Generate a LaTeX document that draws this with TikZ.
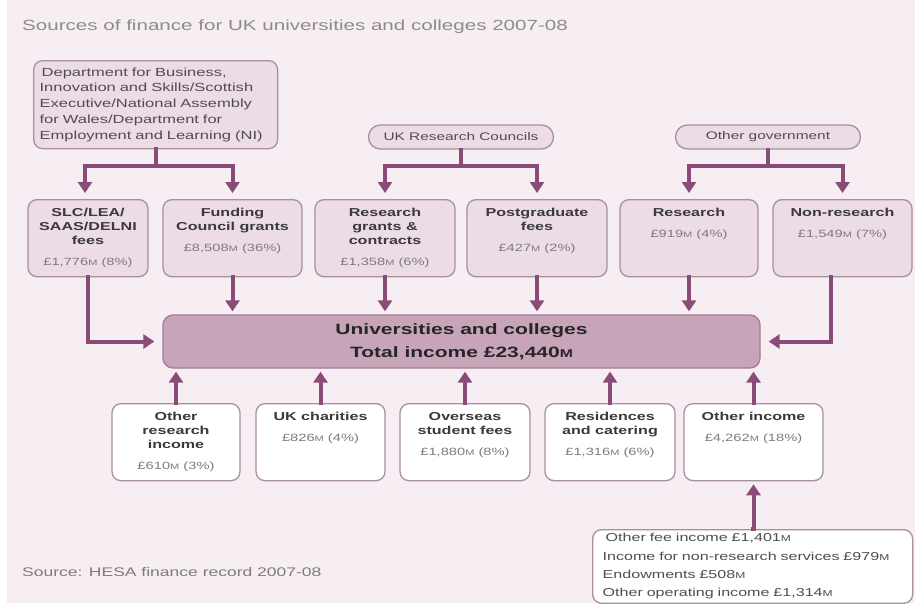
\documentclass[tikz,border=0pt]{standalone}
\usepackage{fontspec}
\setmainfont{Liberation Sans}[FakeStretch=1.4]
\usetikzlibrary{arrows.meta,calc}

\definecolor{bgc}{HTML}{F6EEF2}
\definecolor{arrowc}{HTML}{8A4C76}
\definecolor{boxfill}{HTML}{ECDCE5}
\definecolor{boxline}{HTML}{A8909F}
\definecolor{mainfill}{HTML}{C8A4B9}
\definecolor{mainline}{HTML}{A27C93}
\definecolor{headc}{HTML}{3A3A3A}
\definecolor{valc}{HTML}{7C7C7C}
\definecolor{titlec}{HTML}{8C8C8C}
\definecolor{deptc}{HTML}{4E4E4E}

% small capital M for millions
\newcommand{\mn}{\scalebox{.75}{M}}
\newcommand{\hd}[1]{{\fontsize{11.5}{13.8}\selectfont\bfseries\color{headc}#1\par}}
\newcommand{\val}[1]{{\fontsize{10.5}{13}\selectfont\color{valc}#1\par}}
\newcommand{\cell}[2]{\parbox[t][73pt][t]{#1pt}{\centering\vspace*{7pt}#2}}

\tikzset{
  link/.style={draw=arrowc, line width=4pt},
  flow/.style={link, -{Triangle[width=14pt,length=11pt]}},
  govbox/.style={draw=boxline, fill=boxfill, line width=1.3pt, rounded corners=9pt},
  srcbox/.style={govbox, anchor=north, inner sep=2pt},
  otherbox/.style={srcbox, fill=white},
  pill/.style={govbox, rounded corners=12pt, minimum width=185pt, minimum height=24pt,
    inner sep=0pt, text=deptc, font=\fontsize{11}{13}\selectfont},
  mainbox/.style={draw=mainline, fill=mainfill, line width=1.3pt, rounded corners=10pt,
    minimum width=597pt, minimum height=53pt, align=center, text=black!85,
    font=\fontsize{15}{23}\selectfont\bfseries}
}

\begin{document}
\begin{tikzpicture}[x=1pt, y=-1pt, line cap=rect]
\useasboundingbox (0,0) rectangle (915,603);
\fill[bgc] (7,0) rectangle (915,603);

\node[anchor=west, text=titlec, font=\fontsize{14.7}{17}\selectfont, inner sep=0pt]
  (title) at (22,27) {Sources of finance for UK universities and colleges 2007-08};

% funding bodies
\node[govbox, anchor=north west, text width=232pt, inner xsep=6pt, minimum height=88pt,
  align=left, text=deptc, font=\fontsize{11.8}{15.8}\selectfont] (dept) at (33,60)
  {\hspace{2pt}Department for Business,\\Innovation and Skills/Scottish\\Executive/National Assembly\\for Wales/Department for\\Employment and Learning (NI)};
\node[pill] (ukrc) at (461,137) {UK Research Councils};
\node[pill] (othgov) at (768,137) {Other government};

% second row
\node[srcbox] (slc) at (88,199) {\cell{116}{\hd{SLC/LEA/\\SAAS/DELNI\\fees}\vspace{8pt}\val{£1,776\mn{} (8\%)}}};
\node[srcbox] (fund) at (232.5,199) {\cell{135}{\hd{Funding\\Council grants}\vspace{8pt}\val{£8,508\mn{} (36\%)}}};
\node[srcbox] (rgc) at (385,199) {\cell{136}{\hd{Research\\grants \&\\contracts}\vspace{8pt}\val{£1,358\mn{} (6\%)}}};
\node[srcbox] (pgf) at (537,199) {\cell{136}{\hd{Postgraduate\\fees}\vspace{8pt}\val{£427\mn{} (2\%)}}};
\node[srcbox] (res) at (689,199) {\cell{134}{\hd{Research}\vspace{8pt}\val{£919\mn{} (4\%)}}};
\node[srcbox] (nonres) at (842.5,199) {\cell{135}{\hd{Non-research}\vspace{8pt}\val{£1,549\mn{} (7\%)}}};

% universities
\node[mainbox] (uni) at (461.5,341.5) {Universities and colleges\\Total income £23,440\mn};

% third row
\node[otherbox] (ori) at (176,403) {\cell{124}{\hd{Other\\research\\income}\vspace{8pt}\val{£610\mn{} (3\%)}}};
\node[otherbox] (ukch) at (320.5,403) {\cell{125}{\hd{UK charities}\vspace{8pt}\val{£826\mn{} (4\%)}}};
\node[otherbox] (osf) at (465,403) {\cell{126}{\hd{Overseas\\student fees}\vspace{8pt}\val{£1,880\mn{} (8\%)}}};
\node[otherbox] (rcat) at (610,403) {\cell{126}{\hd{Residences\\and catering}\vspace{8pt}\val{£1,316\mn{} (6\%)}}};
\node[otherbox] (othinc) at (753.5,403) {\cell{135}{\hd{Other income}\vspace{8pt}\val{£4,262\mn{} (18\%)}}};

\node[otherbox, anchor=north west, text width=300pt, inner xsep=10pt, inner ysep=4pt,
  minimum height=73pt, align=left, text=deptc, font=\fontsize{11.5}{18.3}\selectfont]
  (othlist) at (592,529)
  {\hspace{3pt}Other fee income £1,401\mn\\Income for non-research services £979\mn\\Endowments £508\mn\\Other operating income £1,314\mn};

\node[anchor=west, text=valc, font=\fontsize{12.5}{15}\selectfont, inner sep=0pt]
  (src) at (22,572) {Source: HESA finance record 2007-08};

% forks from the funding bodies
\coordinate (deptfork) at ($(dept.south)+(0,17)$);
\coordinate (ukrcfork) at ($(ukrc.south)+(0,16)$);
\coordinate (othgovfork) at ($(othgov.south)+(0,16)$);
\draw[link] (dept.south) -- (deptfork);
\draw[link] (ukrc.south) -- (ukrcfork);
\draw[link] (othgov.south) -- (othgovfork);
\draw[flow, shorten >=6pt] (deptfork) -| ([xshift=-3pt]slc.north);
\draw[flow, shorten >=6pt] (deptfork) -| (fund.north);
\draw[flow, shorten >=6pt] (ukrcfork) -| (rgc.north);
\draw[flow, shorten >=6pt] (ukrcfork) -| (pgf.north);
\draw[flow, shorten >=6pt] (othgovfork) -| (res.north);
\draw[flow, shorten >=6pt] (othgovfork) -| (nonres.north);

% into the universities
\draw[flow, shorten >=8pt] (slc.south) |- (uni.west);
\foreach \n in {fund,rgc,pgf,res}
  \draw[flow, shorten >=3pt] (\n.south) -- (\n.south |- uni.north);
\draw[flow, shorten >=8pt] ([xshift=-12pt]nonres.south) |- (uni.east);
\foreach \n in {ori,ukch,osf,rcat,othinc}
  \draw[flow, shorten >=3pt] (\n.north) -- (\n.north |- uni.south);
\draw[flow, shorten >=3pt] (othlist.north) -- (othlist.north -| othinc.south) -- (othinc.south);
\end{tikzpicture}
\end{document}
